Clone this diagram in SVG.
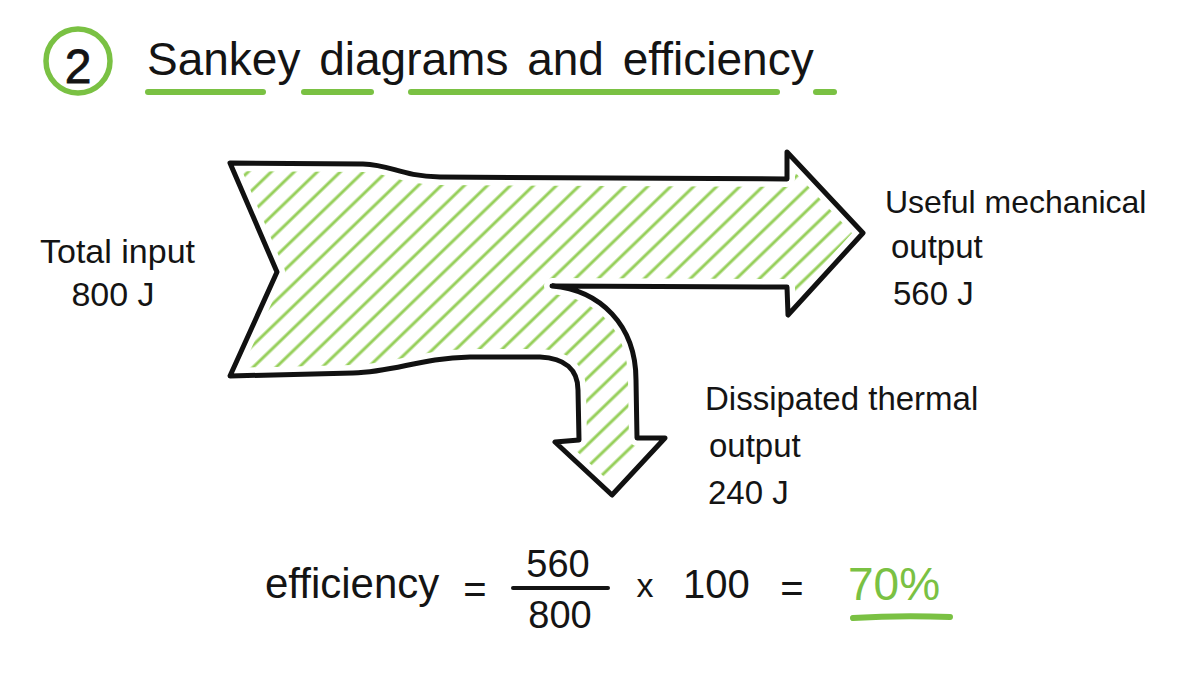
<svg xmlns="http://www.w3.org/2000/svg" width="1200" height="675" viewBox="0 0 1200 675">
  <style>
    .t { font-family: "Liberation Sans", Arial, sans-serif; fill: #141414; }
    .g { font-family: "Liberation Sans", Arial, sans-serif; fill: #7ac143; }
    .ul { stroke: #7ac143; stroke-width: 6; stroke-linecap: round; fill: none; }
    .hatch { stroke: #96cf5a; stroke-width: 2.8; stroke-linecap: round; }
  </style>
  <defs>
    <pattern id="hatchPat" patternUnits="userSpaceOnUse" width="30" height="16" patternTransform="rotate(-44)">
      <line class="hatch" x1="-5" y1="8" x2="35" y2="8"/>
    </pattern>
  </defs>
  <rect width="1200" height="675" fill="#ffffff"/>

  <g id="title">
    <circle cx="78" cy="61" r="32" fill="none" stroke="#7ac143" stroke-width="5.5"/>
    <text class="t" x="78" y="83" font-size="48" text-anchor="middle" stroke="#141414" stroke-width="0.8">2</text>
    <text class="t" x="147" y="75" font-size="46" word-spacing="6">Sankey diagrams and efficiency</text>
    <path class="ul" d="M148 92 L263 92"/>
    <path class="ul" d="M304 92 L371 92"/>
    <path class="ul" d="M411 92 L777 92"/>
    <path class="ul" d="M816 92 L834 92"/>
  </g>

  <g id="sankey">
    <path id="sankey-fill" d="M230 163 L363 164 C392 165 400 176 440 177 L787 179 L787 152 L863 233 L788 315 L787 287 L552 286 C600 290 636 325 636 380 L637 438 L665 438 L612 495 L555 442 L579 440 L578 390 C578 370 565 358 540 357 L470 357 C420 358 395 372 353 373 L230 376 L277 272 Z" fill="url(#hatchPat)" stroke="#ffffff" stroke-width="16" stroke-linejoin="round"/>
    <path id="sankey-outline" d="M230 163 L363 164 C392 165 400 176 440 177 L787 179 L787 152 L863 233 L788 315 L787 287 L552 286 C600 290 636 325 636 380 L637 438 L665 438 L612 495 L555 442 L579 440 L578 390 C578 370 565 358 540 357 L470 357 C420 358 395 372 353 373 L230 376 L277 272 Z" fill="none" stroke="#111111" stroke-width="5" stroke-linejoin="round"/>
  </g>

  <g id="label-input">
    <text class="t" x="40" y="263" font-size="34">Total input</text>
    <text class="t" x="113" y="306" font-size="34" text-anchor="middle">800 J</text>
  </g>

  <g id="label-useful">
    <text class="t" x="885" y="213" font-size="32">Useful mechanical</text>
    <text class="t" x="891" y="258" font-size="33">output</text>
    <text class="t" x="893" y="305" font-size="33">560 J</text>
  </g>

  <g id="label-dissipated">
    <text class="t" x="705" y="410" font-size="33">Dissipated thermal</text>
    <text class="t" x="709" y="457" font-size="33">output</text>
    <text class="t" x="708" y="504" font-size="33">240 J</text>
  </g>

  <g id="formula">
    <text class="t" x="265" y="598" font-size="42">efficiency</text>
    <text class="t" x="475" y="603" font-size="40" text-anchor="middle">=</text>
    <text class="t" x="558" y="577" font-size="38" text-anchor="middle">560</text>
    <line x1="513" y1="588" x2="608" y2="588" stroke="#141414" stroke-width="4" stroke-linecap="round"/>
    <text class="t" x="560" y="628" font-size="38" text-anchor="middle">800</text>
    <text class="t" x="645" y="597" font-size="34" text-anchor="middle">x</text>
    <text class="t" x="683" y="598" font-size="40">100</text>
    <text class="t" x="792" y="602" font-size="40" text-anchor="middle">=</text>
    <text class="g" x="848" y="600" font-size="46">70%</text>
    <path class="ul" d="M853 618 Q900 615 950 617" stroke-width="5"/>
  </g>
</svg>
